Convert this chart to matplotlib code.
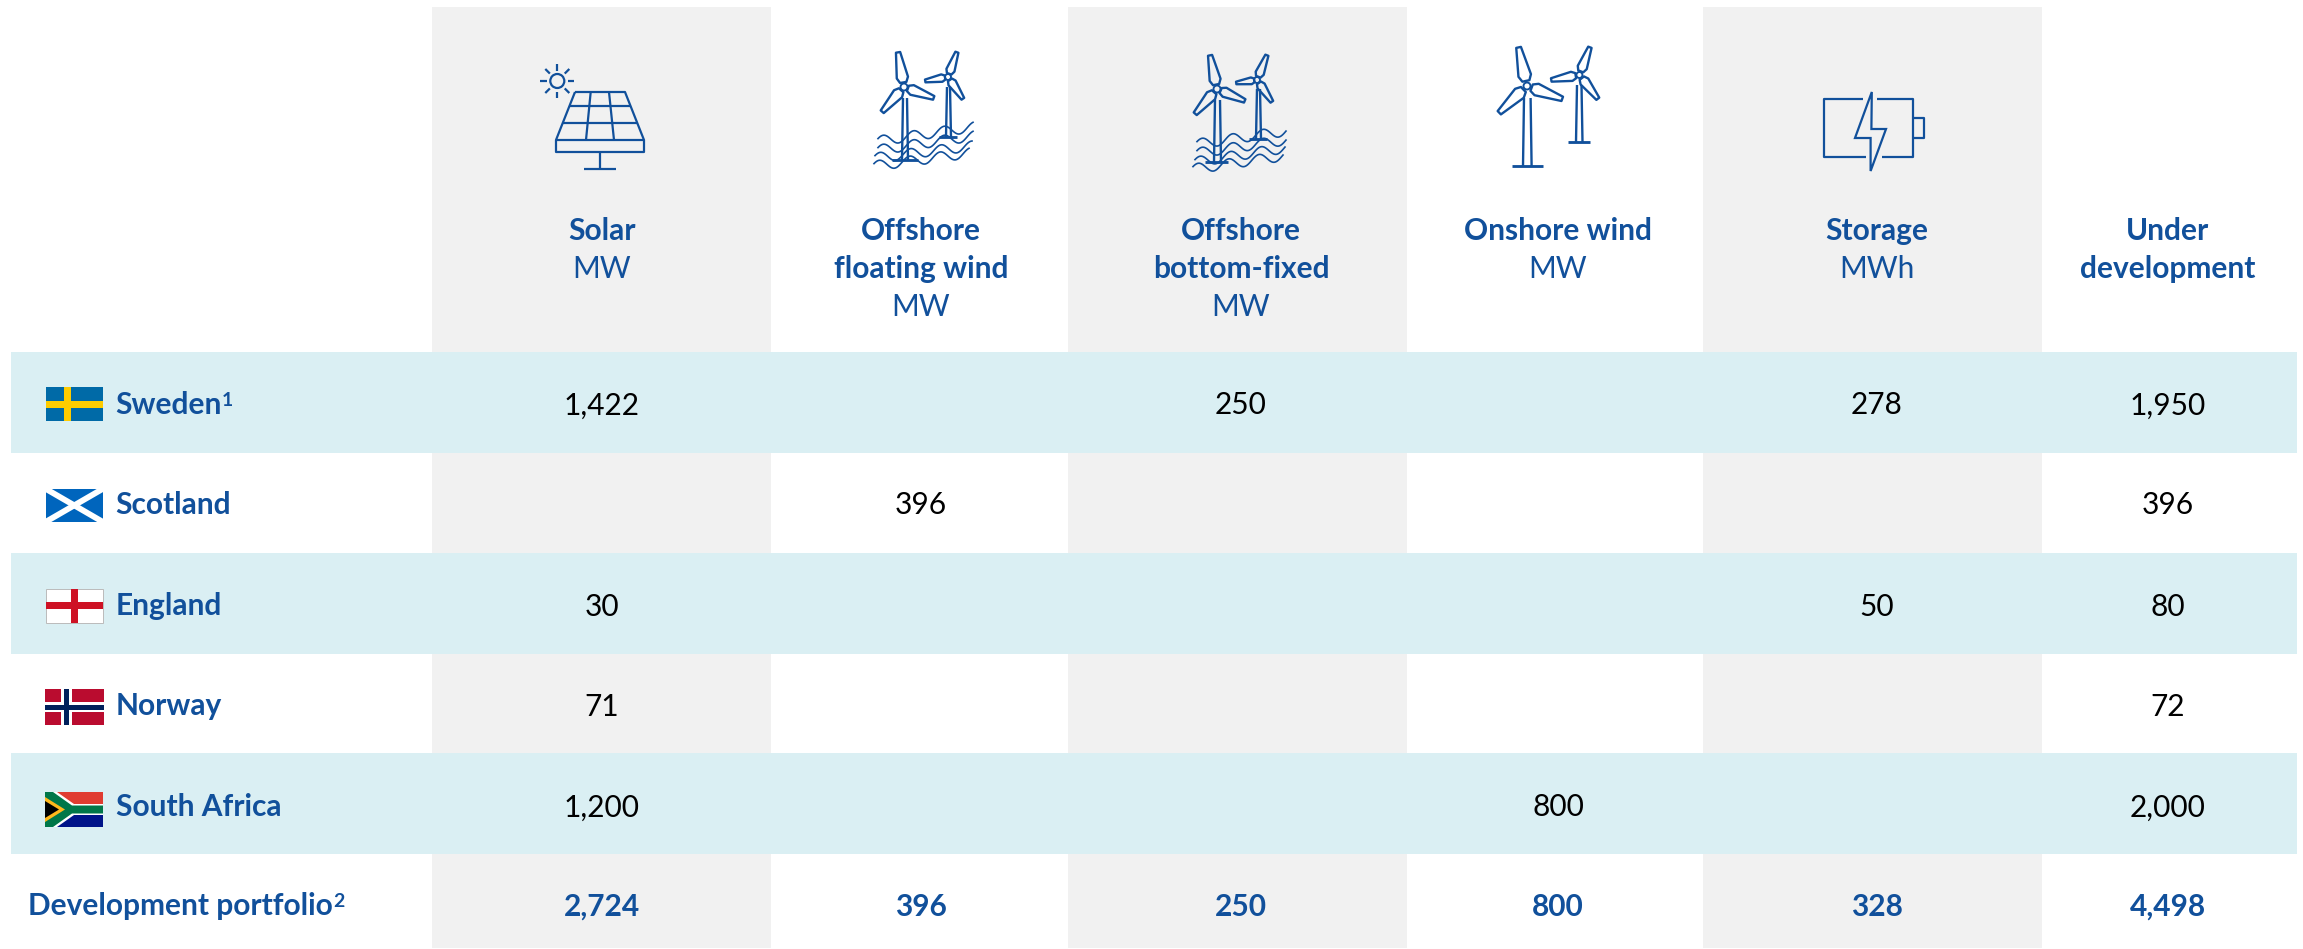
import numpy as np
import matplotlib
matplotlib.use("Agg")
import matplotlib.pyplot as plt
from matplotlib.patches import Rectangle, Polygon, Circle

plt.rcParams['font.family'] = ['Lato', 'DejaVu Sans']

countries = ['Sweden', 'Scotland', 'England', 'Norway', 'South Africa']
total_label = 'Development portfolio'
headers = [['Solar'], ['Offshore', 'floating wind'], ['Offshore', 'bottom-fixed'],
           ['Onshore wind'], ['Storage'], ['Under', 'development']]
units = ['MW', 'MW', 'MW', 'MW', 'MWh', '']

solar = ['1,422', '', '30', '71', '1,200']
floating = ['', '396', '', '', '']
bottom_fixed = ['250', '', '', '', '']
onshore = ['', '', '', '', '800']
storage = ['278', '', '50', '', '']
under_dev = ['1,950', '396', '80', '72', '2,000']
totals = ['2,724', '396', '250', '800', '328', '4,498']

BLUE = '#11509B'
GREY = '#F1F1F1'
BAND = '#DAEFF3'
LW = 1.7

col_edges = [432, 771, 1068, 1407, 1703, 2042, 2297]
col_centres = [602, 921, 1241, 1558, 1877, 2168]
row_edges = [352, 453, 553, 654, 753, 854, 949]
row_base = [414.5, 514.5, 615.5, 715.5, 816.5, 915.5]

fig = plt.figure(figsize=(23.03, 9.49), dpi=100)
ax = fig.add_axes([0, 0, 1, 1])
ax.set_xlim(0, 2303)
ax.set_ylim(949, 0)
ax.axis('off')

# grey columns behind the light blue bands
for i in (0, 2, 4):
    ax.add_patch(Rectangle((col_edges[i], 7), col_edges[i+1]-col_edges[i], 941, fc=GREY, ec='none', zorder=1))
for i in (0, 2, 4):
    ax.add_patch(Rectangle((11, row_edges[i]), 2286, row_edges[i+1]-row_edges[i], fc=BAND, ec='none', zorder=2))


def line(xs, ys, lw=LW, color=BLUE, cap='butt'):
    ax.plot(xs, ys, color=color, lw=lw, solid_capstyle=cap, solid_joinstyle='round', zorder=5)


def blade(hub, tip):
    hub, tip = np.array(hub, float), np.array(tip, float)
    d = tip - hub
    n = np.array([-d[1], d[0]])
    ts = [0.13, 0.27, 0.99, 0.99, 0.27, 0.13]
    ws = [0.09, 0.16, 0.06, -0.06, -0.16, -0.09]
    pts = [hub + d*t + n*w for t, w in zip(ts, ws)]
    ax.add_patch(Polygon(pts, closed=True, fc='none', ec=BLUE, lw=LW, joinstyle='round', zorder=5))


def turbine(hub, tips, tower_x, top_y, base_y, base_x, r=3.5):
    ax.add_patch(Circle(hub, r, fc='none', ec=BLUE, lw=LW*0.8, zorder=5))
    for t in tips:
        blade(hub, t)
    line([tower_x[0]+1, tower_x[0]], [top_y, base_y])
    line([tower_x[1]-1, tower_x[1]], [top_y, base_y])
    line(base_x, [base_y, base_y], lw=LW*1.2)


def waves(starts, ends):
    for (x0, y0), (x1, y1) in zip(starts, ends):
        xs = np.linspace(x0, x1, 120)
        trend = y0 + (y1-y0)*(xs-x0)/(x1-x0)
        ax.plot(xs, trend - 5*np.sin((xs-x0)/30.5*2*np.pi + 0.5), color=BLUE, lw=1.2, zorder=5)


def solar_icon():
    lw = 1.6
    line([575, 625, 644, 644, 556, 556, 575], [92, 92, 140, 152, 152, 140, 92], lw=lw)
    line([556, 644], [140, 140], lw=lw)
    for y in (106, 123):
        k = (y-92)/48
        line([575-19*k, 625+19*k], [y, y], lw=lw)
    line([590.7, 586], [92, 140], lw=lw)
    line([609, 614], [92, 140], lw=lw)
    line([600, 600], [152, 168], lw=lw)
    line([584, 616], [169, 169], lw=lw)
    ax.add_patch(Circle((557.3, 81), 7, fc='none', ec=BLUE, lw=lw, zorder=5))
    for a in np.deg2rad(np.arange(0, 360, 45)):
        line([557.3+10.5*np.cos(a), 557.3+17*np.cos(a)], [81+10.5*np.sin(a), 81+17*np.sin(a)], lw=lw)


def battery_icon():
    lw = 1.6
    line([1863, 1823.6, 1823.6, 1866], [99, 99, 157, 157], lw=lw)
    line([1877, 1912.7, 1912.7, 1882], [99, 99, 157, 157], lw=lw)
    line([1912.7, 1924, 1924, 1912.7], [118, 118, 138, 138], lw=lw)
    ax.add_patch(Polygon([(1871.8, 92), (1855, 138), (1870.6, 138), (1870.6, 171),
                          (1886, 129), (1871.4, 129)], closed=True, fc='none', ec=BLUE, lw=lw, zorder=5))


solar_icon()
# floating wind
turbine((904, 87), [(898, 52), (934, 98), (882, 112)], (902, 908), 98, 160, (892, 918))
turbine((948, 77), [(957, 52), (925, 81), (963, 99)], (946, 951), 87, 137, (939, 957), r=3)
waves([(878, 141), (878, 150), (875, 158), (874, 166)], [(973, 127), (973, 136), (972, 146), (969, 153)])
# bottom-fixed
turbine((1217, 89), [(1210, 55), (1245, 101), (1195, 114)], (1214, 1221), 100, 162, (1205, 1228))
turbine((1257, 80), [(1267, 55), (1236, 83), (1272, 102)], (1256, 1261), 89, 139, (1249, 1267), r=3)
waves([(1197, 144), (1197, 153), (1195, 162), (1193, 169)], [(1286, 131), (1286, 140), (1285, 148), (1283, 156)])
# onshore
turbine((1527, 86), [(1518.5, 47), (1562.6, 99), (1499, 113)], (1523, 1531.6), 98, 166, (1511.7, 1543))
turbine((1579.4, 75), [(1590, 47), (1551, 80), (1598, 99)], (1576, 1582.5), 85, 142, (1568, 1590), r=3)
battery_icon()


def rect(x, y, w, h, c, z=6):
    ax.add_patch(Rectangle((x, y), w, h, fc=c, ec='none', zorder=z))


# Flags
rect(46, 387, 57, 34, '#006AA7')
rect(46, 400.7, 57, 7.3, '#FECC00', 7)
rect(63.7, 387, 7.3, 34, '#FECC00', 7)

rect(46, 489, 56.5, 32.7, '#0065BD')
ax.plot([46, 102.5], [489, 521.7], color='white', lw=4.2, zorder=7, clip_path=Rectangle((46, 489), 56.5, 32.7, transform=ax.transData))
ax.plot([46, 102.5], [521.7, 489], color='white', lw=4.2, zorder=7, clip_path=Rectangle((46, 489), 56.5, 32.7, transform=ax.transData))

ax.add_patch(Rectangle((46, 589.3), 57, 33.4, fc='white', ec='#BBBBBB', lw=0.7, zorder=6))
rect(71, 589.3, 7, 33.4, '#CE1124', 7)
rect(46, 602.3, 57, 7, '#CE1124', 7)

rect(45, 689, 59, 36, '#BA0C2F')
rect(61, 689, 10.7, 36, 'white', 7)
rect(45, 702.3, 59, 10, 'white', 7)
rect(63.7, 689, 5.3, 36, '#00205B', 8)
rect(45, 705, 59, 4.5, '#00205B', 8)

# South Africa
rect(45, 792, 58, 17.5, '#E03C31')
rect(45, 809.5, 58, 17.5, '#001489')
ax.add_patch(Polygon([(45, 792), (57, 792), (74, 804), (103, 804), (103, 815), (74, 815), (57, 827), (45, 827)],
                     closed=True, fc='white', ec='none', zorder=7))
ax.add_patch(Polygon([(45, 792), (53, 792), (72, 805.5), (103, 805.5), (103, 813.5), (72, 813.5), (53, 827), (45, 827)],
                     closed=True, fc='#007749', ec='none', zorder=8))
ax.add_patch(Polygon([(45, 797), (65, 809.5), (45, 822)], closed=True, fc='#FFB81C', ec='none', zorder=9))
ax.add_patch(Polygon([(45, 801), (59, 809.5), (45, 818)], closed=True, fc='black', ec='none', zorder=10))

# Text
FS = 21.5
for head, unit, cx in zip(headers, units, col_centres):
    ys = [240, 278, 316]
    for s, y in zip(head, ys):
        ax.text(cx, y, s, ha='center', va='baseline', fontsize=FS, fontweight='bold', color=BLUE, zorder=11)
    if unit:
        ax.text(cx, ys[len(head)], unit, ha='center', va='baseline', fontsize=FS, color=BLUE, zorder=11)

renderer = fig.canvas.get_renderer()


def label(x, y, s, sup=None):
    t = ax.text(x, y, s, ha='left', va='baseline', fontsize=FS, fontweight='bold', color=BLUE, zorder=11)
    if sup:
        right = ax.transData.inverted().transform(t.get_window_extent(renderer).max)[0]
        ax.text(right, y - 8.5, sup, ha='left', va='baseline', fontsize=14, fontweight='bold', color=BLUE, zorder=11)


for name, y in zip(countries, row_base):
    label(115.5, y, name, '1' if name == 'Sweden' else None)
label(28, row_base[5], total_label, '2')

columns = [solar, floating, bottom_fixed, onshore, storage, under_dev]
for col, cx in zip(columns, col_centres):
    for val, y in zip(col, row_base):
        if val:
            ax.text(cx, y, val, ha='center', va='baseline', fontsize=FS, color='black', zorder=11)
for val, cx in zip(totals, col_centres):
    ax.text(cx, row_base[5], val, ha='center', va='baseline', fontsize=FS, fontweight='bold', color=BLUE, zorder=11)

fig.savefig('out.png', dpi=100)
